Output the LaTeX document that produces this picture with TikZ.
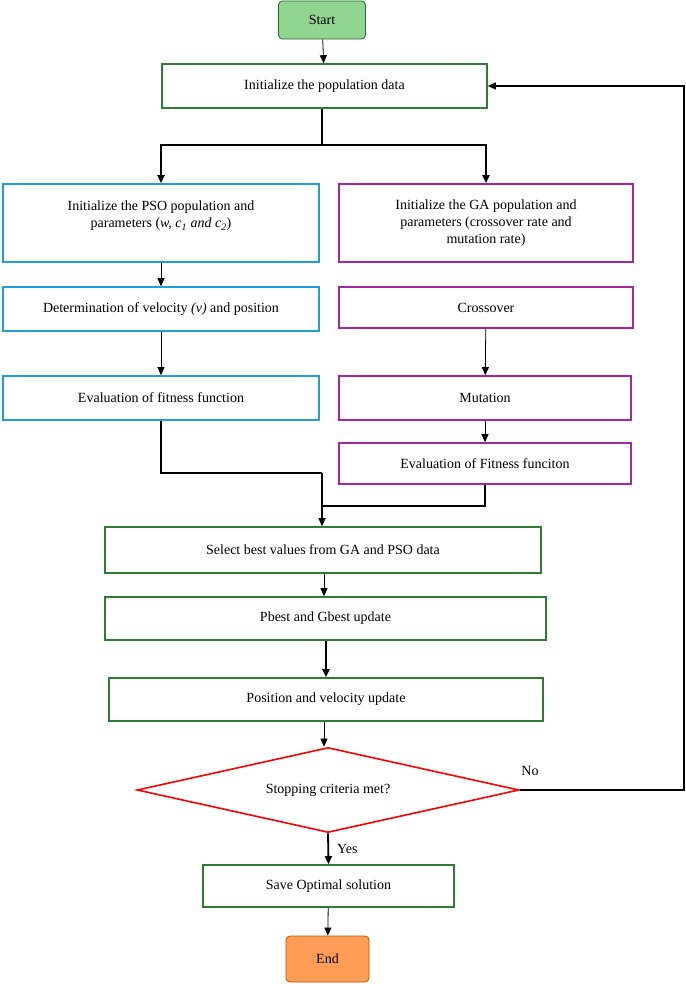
\documentclass[tikz,border=0pt]{standalone}
\usepackage{fontspec}
\setmainfont{Liberation Serif}
\usetikzlibrary{shapes.geometric,arrows.meta}
\definecolor{gr}{RGB}{46,125,50}
\definecolor{bl}{RGB}{30,160,215}
\definecolor{pu}{RGB}{160,40,160}
\begin{document}
\begin{tikzpicture}[x=1pt,y=-1pt,
 every node/.style={font=\fontsize{14}{17}\selectfont,inner sep=0},
 bx/.style={draw,line width=1.6pt,rectangle},
 g/.style={bx,draw=gr},b/.style={bx,draw=bl},p/.style={bx,draw=pu},
 ar/.style={-{Triangle[length=8pt,width=7pt]},line width=0.8pt},
 tar/.style={ar,line width=1.8pt}]
\useasboundingbox (0,0) rectangle (685,984);
\node[draw=gr!80!black,fill=green!45!gray!60,rounded corners=4pt,minimum width=87pt,minimum height=38pt,line width=0.8pt] (start) at (322,20) {Start};
\node[g,minimum width=325pt,minimum height=44pt] (init) at (324.5,86) {Initialize the population data};
\node[b,minimum width=316pt,minimum height=78pt] (pso) at (161,223) {};
\node[align=center] (psot) at (161,216) {Initialize the PSO population and\\parameters (\textit{w, c\textsubscript{1} and c\textsubscript{2}})};
\node[p,minimum width=294pt,minimum height=78pt,align=center] (ga) at (486,223) {Initialize the GA population and\\parameters (crossover rate and\\mutation rate)};
\node[b,minimum width=316pt,minimum height=44pt] (vel) at (161,309) {Determination of velocity \textit{(v)} and position};
\node[p,minimum width=294pt,minimum height=41pt] (cross) at (486,307.5) {Crossover};
\node[b,minimum width=316pt,minimum height=44pt] (ev1) at (161,398) {Evaluation of fitness function};
\node[p,minimum width=292pt,minimum height=44pt] (mut) at (485,398) {Mutation};
\node[p,minimum width=292pt,minimum height=41pt] (ev2) at (485,463.5) {Evaluation of Fitness funciton};
\node[g,minimum width=436pt,minimum height=46pt] (sel) at (323,550) {Select best values from GA and PSO data};
\node[g,minimum width=441pt,minimum height=43pt] (pb) at (325.5,618.5) {Pbest and Gbest update};
\node[g,minimum width=434pt,minimum height=43pt] (pos) at (326,699.5) {Position and velocity update};
\node[diamond,draw=red,line width=1.6pt,aspect=4.5,minimum width=382pt,minimum height=85pt] (dec) at (328,790) {Stopping criteria met?};
\node[g,minimum width=251pt,minimum height=42pt] (save) at (328.5,886) {Save Optimal solution};
\node[draw=orange!70!black,fill=orange!55!pink,rounded corners=4pt,minimum width=83pt,minimum height=46pt,line width=0.8pt] (end) at (327.5,959) {End};
\coordinate (j1) at (322,145);
\coordinate (j2) at (322,473);
\draw[ar] (start) -- (init);
\draw[line width=1.8pt] (init.south -| j1) -- (j1);
\draw[tar] (j1) -| (pso.north);
\draw[tar] (j1) -| (ga.north);
\draw[ar] (pso) -- (vel);
\draw[ar] (vel) -- (ev1);
\draw[ar] (cross) -- (mut);
\draw[ar] (mut) -- (ev2);
\draw[line width=1.2pt] (ev1.south) |- (j2);
\draw[line width=1.2pt] (ev2.south) |- (322,506);
\draw[ar,line width=1.2pt] (j2) -- (sel.north -| j2);
\draw[ar] (sel.south -| 324,0) -- (pb.north -| 324,0);
\draw[tar] (pb.south -| 326,0) -- (pos.north -| 326,0);
\draw[ar] (pos.south -| 324,0) -- (dec.north -| 324,0);
\draw[tar] (dec.south) -- node[right=8pt,pos=0.5] {Yes} (save.north);
\draw[ar] (save) -- (end);
\draw[ar,line width=1.2pt] (dec.east) -- (684,790) -- (684,86) -- (init.east);
\node at (530,771) {No};
\end{tikzpicture}
\end{document}
